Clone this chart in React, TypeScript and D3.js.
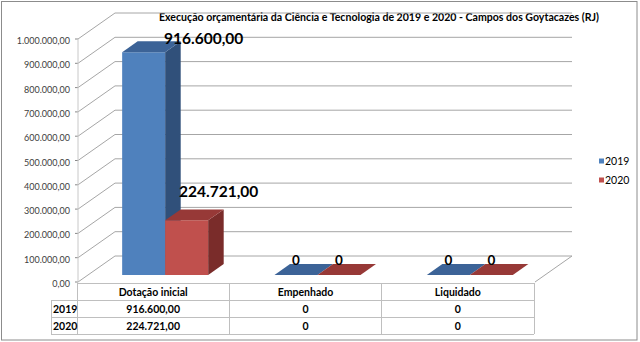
import React from "react";
import * as d3 from "d3";

const title = "Execução orçamentária da Ciência e Tecnologia de 2019 e 2020 - Campos dos Goytacazes (RJ)";
const categories = ["Dotação inicial", "Empenhado", "Liquidado"];
const seriesNames = ["2019", "2020"];
const values2019 = [916600, 0, 0];
const values2020 = [224721, 0, 0];
const tableText2019 = ["916.600,00", "0", "0"];
const tableText2020 = ["224.721,00", "0", "0"];
const yTicks = [0, 100000, 200000, 300000, 400000, 500000, 600000, 700000, 800000, 900000, 1000000];

const W = 640;
const H = 342;
const FONT = "Lato, 'Open Sans', sans-serif";

// 3D geometry (style)
const DX = 37;
const DY = -26;
const Z1 = 0.27;
const Z2 = 0.69;
const BAR_W = 43;

const fmtAxis = (v: number) => {
  const s = d3.format(",.2f")(v);
  return s.replace(/,/g, "#").replace(/\./g, ",").replace(/#/g, ".");
};
const fmtLabel = (v: number) => (v === 0 ? "0" : fmtAxis(v));

const colors = [
  { front: "#4F81BD", side: "#30507A", top: "#3C6397" },
  { front: "#C0504D", side: "#7A2C2A", top: "#973937" },
];

// label nudges relative to default placement (center over bar front, baseline at top back)
const labelNudges = [
  [[60, 2.5], [0, 1], [0, 1]],
  [[32, -12.5], [0, 1], [0, 1]],
];

export default function App() {
  const x = d3.scaleBand<string>().domain(categories).range([77, 534]).paddingInner(0).paddingOuter(0);
  const y = d3.scaleLinear().domain([0, 1000000]).range([282, 39]);
  const proj = (xf: number, v: number, z: number): [number, number] => [xf + DX * z, y(v) + DY * z];
  const poly = (pts: [number, number][]) => pts.map((p) => p.join(",")).join(" ");

  const series = [values2019, values2020];
  const leftX = x(categories[0])!;
  const rightX = x(categories[categories.length - 1])! + x.bandwidth();

  const bars: JSX.Element[] = [];
  const labels: JSX.Element[] = [];
  categories.forEach((c, ci) => {
    const center = x(c)! + x.bandwidth() / 2;
    series.forEach((vals, si) => {
      const v = vals[ci];
      const xl = center - 41 + si * BAR_W;
      const xr = xl + BAR_W;
      const col = colors[si];
      const top = poly([proj(xl, v, Z1), proj(xr, v, Z1), proj(xr, v, Z2), proj(xl, v, Z2)]);
      if (v > 0) {
        const front = poly([proj(xl, 0, Z1), proj(xr, 0, Z1), proj(xr, v, Z1), proj(xl, v, Z1)]);
        const side = poly([proj(xr, 0, Z1), proj(xr, v, Z1), proj(xr, v, Z2), proj(xr, 0, Z2)]);
        bars.push(
          <g key={`b${ci}-${si}`}>
            <polygon points={front} fill={col.front} />
            <polygon points={side} fill={col.side} />
            <polygon points={top} fill={col.top} />
          </g>
        );
      } else {
        bars.push(<polygon key={`b${ci}-${si}`} points={top} fill={col.top} />);
      }
      const [fx] = proj((xl + xr) / 2, v, Z1);
      const [, by] = proj(xl, v, Z2);
      const nudge = labelNudges[si][ci];
      labels.push(
        <text
          key={`l${ci}-${si}`}
          x={fx + nudge[0]}
          y={by + nudge[1]}
          textAnchor="middle"
          fontFamily={FONT}
          fontWeight="bold"
          fontSize={v === 0 ? 13.5 : 15.5}
          fill="#000"
        >
          {fmtLabel(v)}
        </text>
      );
    });
  });

  const gridColor = "#a6a6a6";
  const tableColor = "#bfbfbf";
  const rowY = [283, 300, 317, 334];
  const rowHeadX = 51;

  return (
    <div style={{ position: "fixed", left: 0, top: 0 }}>
      <svg width={W} height={H} style={{ display: "block", background: "#fff" }}>
        <rect x={1.5} y={1.5} width={635.5} height={338.5} fill="#fff" stroke="#8c8c8c" strokeWidth={1} />
        <text x={379} y={21} textAnchor="middle" fontFamily={FONT} fontWeight="bold" fontSize={10.5} fill="#000" textLength={440} lengthAdjust="spacingAndGlyphs">
          {title}
        </text>

        {/* gridlines: back wall + side wall diagonals */}
        {yTicks.map((t) => {
          const [fx, fy] = proj(leftX + 1, t, 0);
          const [bx, byy] = proj(leftX + 1, t, 1);
          const [ex] = proj(rightX + 1, t, 1);
          return (
            <g key={`g${t}`}>
              <line x1={fx} y1={fy} x2={bx} y2={byy} stroke={gridColor} strokeWidth={1} />
              <line x1={bx} y1={byy} x2={ex} y2={byy} stroke={gridColor} strokeWidth={1} />
              <line x1={fx - 3} y1={fy} x2={fx} y2={fy} stroke="#888" strokeWidth={1} />
              <text x={70} y={fy + 5} textAnchor="end" fontFamily={FONT} fontSize={9} fill="#404040">
                {fmtAxis(t)}
              </text>
            </g>
          );
        })}
        {/* front axis line */}
        <line x1={leftX + 1} y1={y(0)} x2={leftX + 1} y2={y(1000000)} stroke="#c8c8c8" strokeWidth={1} />
        {/* floor right edge */}
        <line x1={proj(rightX + 1, 0, 0)[0]} y1={proj(rightX + 1, 0, 0)[1]} x2={proj(rightX + 1, 0, 1)[0]} y2={proj(rightX + 1, 0, 1)[1]} stroke={gridColor} strokeWidth={1} />

        {bars}
        {labels}

        {/* data table */}
        <g stroke={tableColor} strokeWidth={1} shapeRendering="crispEdges">
          <line x1={leftX} y1={rowY[0]} x2={rightX} y2={rowY[0]} />
          <line x1={rowHeadX} y1={rowY[1]} x2={rightX} y2={rowY[1]} />
          <line x1={rowHeadX} y1={rowY[2]} x2={rightX} y2={rowY[2]} />
          <line x1={rowHeadX} y1={rowY[3]} x2={rightX} y2={rowY[3]} />
          <line x1={rowHeadX} y1={rowY[1]} x2={rowHeadX} y2={rowY[3]} />
          <line x1={leftX} y1={rowY[0]} x2={leftX} y2={rowY[3]} />
          {categories.map((c) => (
            <line key={`v${c}`} x1={x(c)! + x.bandwidth()} y1={rowY[0]} x2={x(c)! + x.bandwidth()} y2={rowY[3]} />
          ))}
        </g>
        <g fontFamily={FONT} fontWeight="bold" fontSize={10.5} fill="#000">
          {categories.map((c, i) => {
            const cx = x(c)! + x.bandwidth() / 2;
            return (
              <g key={`t${c}`}>
                <text x={cx} y={296} textAnchor="middle">{c}</text>
                <text x={cx} y={312.5} textAnchor="middle">{tableText2019[i]}</text>
                <text x={cx} y={329.5} textAnchor="middle">{tableText2020[i]}</text>
              </g>
            );
          })}
          <text x={53} y={312.5}>{seriesNames[0]}</text>
          <text x={53} y={329.5}>{seriesNames[1]}</text>
        </g>

        {/* legend */}
        {seriesNames.map((s, i) => (
          <g key={`leg${s}`}>
            <rect x={599} y={158.5 + i * 19} width={5} height={5} fill={colors[i].front} />
            <text x={605} y={165 + i * 19} fontFamily={FONT} fontSize={10.5} fill="#000">{s}</text>
          </g>
        ))}
      </svg>
    </div>
  );
}
